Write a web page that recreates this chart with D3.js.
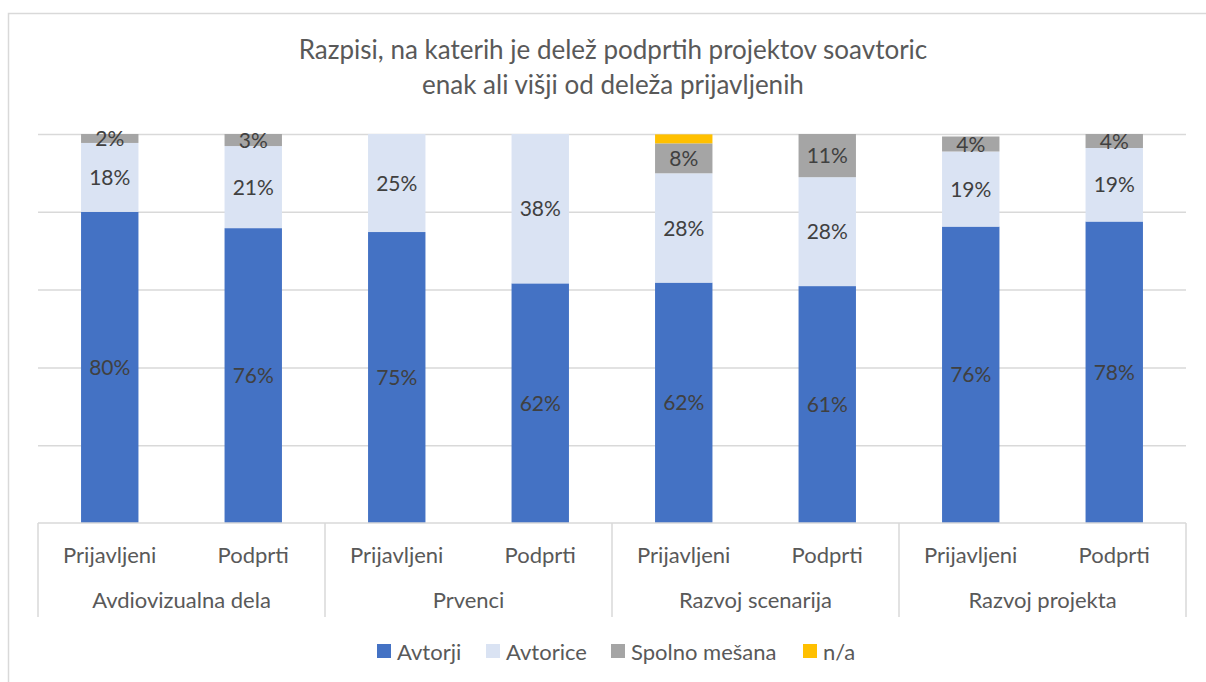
<!DOCTYPE html>
<meta charset="utf-8">
<head>
<style>
  body { margin: 0; background: #fff; }
  text { font-family: Lato, "Open Sans", sans-serif; }
</style>
</head>
<body>
<script src="https://d3js.org/d3.v7.min.js"></script>
<div id="chart"></div>
<script>
// data (percent)
var groups = ["Avdiovizualna dela", "Prvenci", "Razvoj scenarija", "Razvoj projekta"];
var subLabels = ["Prijavljeni", "Podprti"];
var seriesNames = ["Avtorji", "Avtorice", "Spolno mešana", "n/a"];
var avtorji = [80.0, 75.8, 74.8, 61.6, 61.8, 60.9, 76.2, 77.5];
var avtorice = [17.7, 21.1, 25.2, 38.4, 28.1, 28.0, 19.3, 18.9];
var mesana = [2.3, 3.1, 0, 0, 7.7, 11.1, 3.86, 3.6];
var na = [0, 0, 0, 0, 2.3, 0, 0, 0];
var colors = ["#4472c4", "#dae3f3", "#a5a5a5", "#ffc000"];

var W = 1206, H = 682;
var margin = {top: 134, left: 38, right: 20, bottom: 159};
var plotW = W - margin.left - margin.right,
    plotH = H - margin.top - margin.bottom;

var svg = d3.select("#chart").append("svg")
    .attr("width", W).attr("height", H);

// outer chart border
svg.append("rect")
    .attr("x", 8.5).attr("y", 13.5)
    .attr("width", W).attr("height", H)
    .attr("fill", "none").attr("stroke", "#d9d9d9").attr("stroke-width", 1.5);

svg.append("text")
    .attr("x", 613).attr("y", 59)
    .attr("text-anchor", "middle").attr("font-size", "26px").attr("fill", "#595959")
    .text("Razpisi, na katerih je delež podprtih projektov soavtoric");
svg.append("text")
    .attr("x", 613).attr("y", 94)
    .attr("text-anchor", "middle").attr("font-size", "26px").attr("fill", "#595959")
    .text("enak ali višji od deleža prijavljenih");

var g = svg.append("g").attr("transform", "translate(" + margin.left + "," + margin.top + ")");

// build rows
var cats = [];
groups.forEach(function(gr, gi) {
  subLabels.forEach(function(s, si) { cats.push(gr + "|" + s); });
});
var rows = cats.map(function(c, i) {
  return {cat: c, "Avtorji": avtorji[i], "Avtorice": avtorice[i], "Spolno mešana": mesana[i], "n/a": na[i]};
});

var x = d3.scaleBand().domain(cats).range([0, plotW]).paddingInner(0.6).paddingOuter(0.3);
var y = d3.scaleLinear().domain([0, 100]).range([plotH, 0]);
var color = d3.scaleOrdinal().domain(seriesNames).range(colors);

// gridlines
g.append("g")
  .call(d3.axisLeft(y).tickValues([20, 40, 60, 80, 100]).tickSize(-plotW).tickFormat(""))
  .call(function(a) {
    a.select(".domain").remove();
    a.selectAll("line").attr("stroke", "#d9d9d9").attr("stroke-width", 1.5);
  });

var stack = d3.stack().keys(seriesNames)(rows);

var layer = g.selectAll(".layer").data(stack).enter().append("g")
    .attr("fill", function(d) { return color(d.key); });

layer.selectAll("rect").data(function(d) { return d; }).enter().append("rect")
    .attr("x", function(d) { return x(d.data.cat); })
    .attr("width", x.bandwidth())
    .attr("y", function(d) { return y(d[1]); })
    .attr("height", function(d) { return y(d[0]) - y(d[1]); });

// data labels (no label for n/a)
stack.forEach(function(s) {
  if (s.key === "n/a") return;
  g.append("g").selectAll("text").data(s.filter(function(d) { return d[1] - d[0] > 0; }))
    .enter().append("text")
    .attr("x", function(d) { return x(d.data.cat) + x.bandwidth() / 2; })
    .attr("y", function(d) { return (y(d[0]) + y(d[1])) / 2; })
    .attr("dy", "0.36em")
    .attr("text-anchor", "middle")
    .attr("font-size", "21px")
    .attr("fill", "#404040")
    .text(function(d) { return Math.round(d[1] - d[0]) + "%"; });
});

// category axis
var axisY = plotH;
g.append("line").attr("x1", 0).attr("x2", plotW).attr("y1", axisY).attr("y2", axisY)
    .attr("stroke", "#d9d9d9").attr("stroke-width", 1.5);
var step = plotW / groups.length;
d3.range(groups.length + 1).forEach(function(i) {
  g.append("line").attr("x1", i * step).attr("x2", i * step)
    .attr("y1", axisY).attr("y2", axisY + 94)
    .attr("stroke", "#d9d9d9").attr("stroke-width", 1.5);
});
g.selectAll(".sub").data(cats).enter().append("text")
    .attr("x", function(c) { return x(c) + x.bandwidth() / 2; })
    .attr("y", axisY + 40)
    .attr("text-anchor", "middle").attr("font-size", "22px").attr("fill", "#595959")
    .text(function(c) { return c.split("|")[1]; });
g.selectAll(".grp").data(groups).enter().append("text")
    .attr("x", function(d, i) { return i * step + step / 2; })
    .attr("y", axisY + 85)
    .attr("text-anchor", "middle").attr("font-size", "22px").attr("fill", "#595959")
    .text(function(d) { return d; });

// legend
var legendX = [377, 486, 611, 803];
var legend = svg.append("g").selectAll("g").data(seriesNames).enter().append("g")
    .attr("transform", function(d, i) { return "translate(" + legendX[i] + ",644)"; });
legend.append("rect").attr("width", 14).attr("height", 14)
    .attr("fill", function(d) { return color(d); });
legend.append("text").attr("x", 20).attr("y", 16)
    .attr("font-size", "22px").attr("fill", "#595959")
    .text(function(d) { return d; });
</script>
</body>
